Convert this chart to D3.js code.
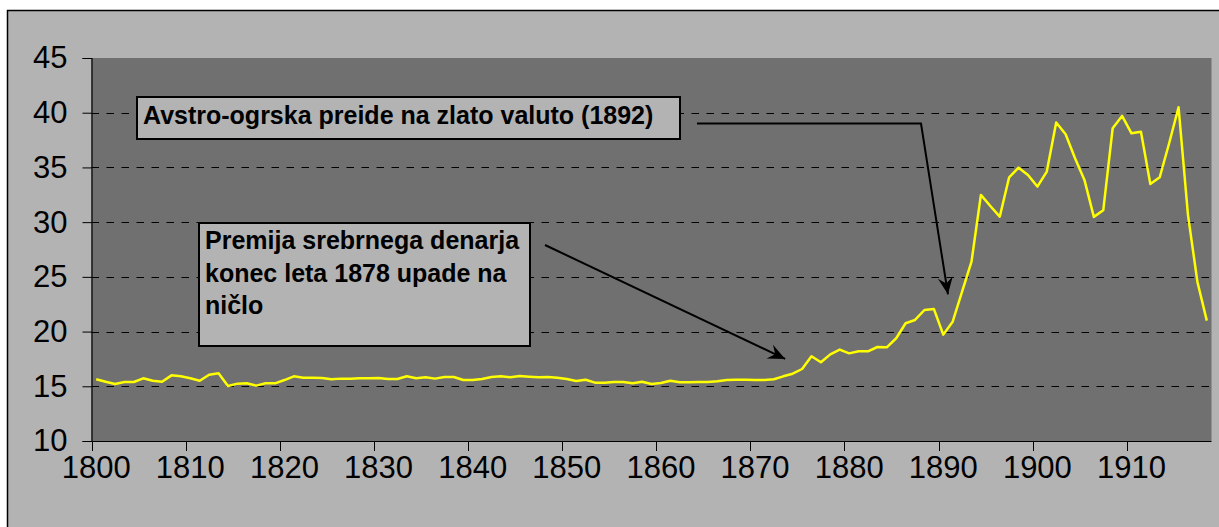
<!DOCTYPE html>
<html>
<head>
<meta charset="utf-8">
<script src="https://cdn.jsdelivr.net/npm/d3@7/dist/d3.min.js"></script>
<style>
  body { margin: 0; background: #ffffff; }
  svg { display: block; font-family: Arial, "Liberation Sans", sans-serif; }
</style>
</head>
<body>
<div id="chart"></div>
<script>
// years 1800..1918, one value per year
var years = d3.range(1800, 1919);
var values = [
  15.64, 15.42, 15.21, 15.39, 15.39, 15.73, 15.51, 15.42, 16.00, 15.91,
  15.73, 15.51, 16.06, 16.20, 15.03, 15.24, 15.27, 15.06, 15.27, 15.27,
  15.57, 15.91, 15.79, 15.79, 15.76, 15.64, 15.70, 15.70, 15.73, 15.73,
  15.76, 15.67, 15.67, 15.92, 15.73, 15.82, 15.70, 15.85, 15.85, 15.57,
  15.57, 15.67, 15.85, 15.91, 15.82, 15.94, 15.88, 15.82, 15.85, 15.79,
  15.67, 15.48, 15.60, 15.33, 15.33, 15.39, 15.39, 15.27, 15.42, 15.21,
  15.30, 15.51, 15.36, 15.36, 15.39, 15.39, 15.45, 15.57, 15.60, 15.60,
  15.57, 15.57, 15.64, 15.91, 16.15, 16.58, 17.74, 17.19, 17.92, 18.35,
  18.01, 18.20, 18.20, 18.59, 18.56, 19.39, 20.76, 21.06, 21.97, 22.07,
  19.72, 20.90, 23.65, 26.39, 32.49, 31.48, 30.50, 34.10, 34.98, 34.31,
  33.25, 34.62, 39.10, 38.03, 35.84, 33.86, 30.48, 31.08, 38.58, 39.71,
  38.12, 38.27, 33.49, 34.10, 37.21, 40.50, 30.66, 24.56, 21.00
];
var yTicks = [10, 15, 20, 25, 30, 35, 40, 45];
var xTickYears = [1800, 1810, 1820, 1830, 1840, 1850, 1860, 1870, 1880, 1890, 1900, 1910];

// annotation texts and where their arrows point (data coords)
var noteGold = ["Avstro-ogrska preide na zlato valuto (1892)"];
var noteSilver = ["Premija srebrnega denarja", "konec leta 1878 upade na", "ničlo"];
var tipGold = [1891.0, 23.4];
var tipSilver = [1873.7, 17.5];

var W = 1219, H = 527;
var plot = {left: 91.5, top: 58, right: 1211.5, bottom: 441};

var svg = d3.select("#chart").append("svg")
    .attr("width", W)
    .attr("height", H);

// outer chart area
svg.append("rect")
    .attr("x", 7.5).attr("y", 10.5)
    .attr("width", W).attr("height", H)
    .attr("fill", "#b3b3b3")
    .attr("stroke", "#000")
    .attr("stroke-width", 1.5);

var x = d3.scaleBand()
    .domain(years)
    .range([plot.left, plot.right]);
var bw = x.bandwidth();
var y = d3.scaleLinear()
    .domain([10, 45])
    .range([plot.bottom, plot.top]);

// plot background
svg.append("rect")
    .attr("x", plot.left).attr("y", plot.top)
    .attr("width", plot.right - plot.left)
    .attr("height", plot.bottom - plot.top)
    .attr("fill", "#707070");

// dashed gridlines
svg.append("g").selectAll("line")
    .data(yTicks.filter(function(d) { return d > 10 && d < 45; }))
    .enter().append("line")
    .attr("x1", plot.left).attr("x2", plot.right)
    .attr("y1", function(d) { return Math.round(y(d)) + 0.5; })
    .attr("y2", function(d) { return Math.round(y(d)) + 0.5; })
    .attr("stroke", "#000")
    .attr("stroke-width", 1)
    .attr("stroke-dasharray", "7.5,7.5");

// y axis
var yAxis = svg.append("g")
    .attr("transform", "translate(" + plot.left + ",0)")
    .call(d3.axisLeft(y).tickValues(yTicks).tickSize(9).tickPadding(15));
yAxis.select(".domain").attr("stroke", "#000").attr("stroke-width", 1.2);
yAxis.selectAll(".tick line").attr("stroke", "#000");
yAxis.selectAll(".tick text")
    .attr("font-size", 31)
    .attr("fill", "#000")
    .attr("font-family", "Arial, 'Liberation Sans', sans-serif");

// x axis: ticks on category boundaries, labels at category centres
var xg = svg.append("g");
xg.append("line")
    .attr("x1", plot.left).attr("x2", plot.right)
    .attr("y1", plot.bottom + 0.5).attr("y2", plot.bottom + 0.5)
    .attr("stroke", "#000").attr("stroke-width", 1.2);
xg.selectAll(".xt").data(xTickYears).enter().append("line")
    .attr("x1", function(d) { return Math.round(x(d)) + 0.5; })
    .attr("x2", function(d) { return Math.round(x(d)) + 0.5; })
    .attr("y1", plot.bottom).attr("y2", plot.bottom + 10)
    .attr("stroke", "#000");
xg.selectAll("text").data(xTickYears).enter().append("text")
    .attr("x", function(d) { return x(d) + bw / 2; })
    .attr("y", plot.bottom + 37)
    .attr("text-anchor", "middle")
    .attr("font-size", 31)
    .attr("fill", "#000")
    .text(function(d) { return d; });

// the series
var line = d3.line()
    .x(function(d, i) { return x(years[i]) + bw / 2; })
    .y(function(d) { return y(d); });
svg.append("path")
    .datum(values)
    .attr("d", line)
    .attr("fill", "none")
    .attr("stroke", "#ffff00")
    .attr("stroke-width", 2.5)
    .attr("stroke-linejoin", "round");

// arrow head marker
svg.append("defs").append("marker")
    .attr("id", "head")
    .attr("markerUnits", "userSpaceOnUse")
    .attr("viewBox", "-18 -9 20 18")
    .attr("refX", 0).attr("refY", 0)
    .attr("markerWidth", 20).attr("markerHeight", 18)
    .attr("orient", "auto")
  .append("path")
    .attr("d", "M0,0 L-17,-7.5 L-11,0 L-17,7.5 Z")
    .attr("fill", "#000");

function tip(t) { return [x.range()[0] + (t[0] - 1800) * bw, y(t[1])]; }

// annotation boxes
function noteBox(lines, bx, by, bwid, bh, tx, ty, lh) {
    var g = svg.append("g");
    g.append("rect")
        .attr("x", bx).attr("y", by)
        .attr("width", bwid).attr("height", bh)
        .attr("fill", "#b3b3b3")
        .attr("stroke", "#000")
        .attr("stroke-width", 2);
    g.selectAll("text").data(lines).enter().append("text")
        .attr("x", tx)
        .attr("y", function(d, i) { return ty + i * lh; })
        .attr("font-size", 25)
        .attr("font-weight", "bold")
        .attr("fill", "#000")
        .text(function(d) { return d; });
}

noteBox(noteGold, 137, 97, 543, 42, 143, 124, 0);
noteBox(noteSilver, 199, 223, 331, 123, 205, 249, 32.5);

var tg = tip(tipGold);
svg.append("path")
    .attr("d", "M697,123.5 L921,123.5 L" + tg[0] + "," + tg[1])
    .attr("fill", "none")
    .attr("stroke", "#000")
    .attr("stroke-width", 2)
    .attr("marker-end", "url(#head)");

var ts = tip(tipSilver);
svg.append("path")
    .attr("d", "M545,245 L" + ts[0] + "," + ts[1])
    .attr("fill", "none")
    .attr("stroke", "#000")
    .attr("stroke-width", 2)
    .attr("marker-end", "url(#head)");
</script>
</body>
</html>
